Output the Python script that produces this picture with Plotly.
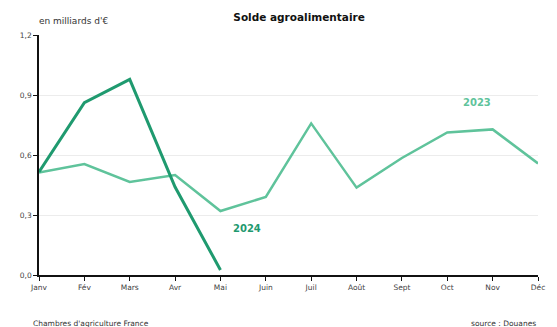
import plotly.graph_objects as go

months = ["Janv", "Fév", "Mars", "Avr", "Mai", "Juin", "Juil", "Août", "Sept", "Oct", "Nov", "Déc"]
values_2023 = [0.513, 0.555, 0.465, 0.50, 0.32, 0.39, 0.758, 0.437, 0.585, 0.713, 0.728, 0.558]
values_2024 = [0.515, 0.862, 0.978, 0.44, 0.025]
ytick_vals = [0, 0.3, 0.6, 0.9, 1.2]
ytick_text = ["0,0", "0,3", "0,6", "0,9", "1,2"]

c23 = "#5fc39b"
c24 = "#1f9a6f"
font = "DejaVu Sans, Verdana, sans-serif"

fig = go.Figure()
fig.add_trace(go.Scatter(x=list(range(12)), y=values_2023, mode="lines",
                         line=dict(color=c23, width=2.5), name="2023", hoverinfo="skip"))
fig.add_trace(go.Scatter(x=list(range(5)), y=values_2024, mode="lines",
                         line=dict(color=c24, width=3), name="2024", hoverinfo="skip"))

fig.update_layout(
    width=557, height=327,
    margin=dict(l=39, r=19, t=35, b=52),
    paper_bgcolor="white", plot_bgcolor="white",
    showlegend=False,
    font=dict(family=font, size=8, color="#444"),
    title=dict(text="<b>Solde agroalimentaire</b>", x=0.537, xanchor="center",
               y=1 - 17 / 327, yanchor="middle", font=dict(size=10.5, color="#111", family=font)),
    xaxis=dict(range=[0, 11], tickvals=list(range(12)), ticktext=months,
               showline=True, linecolor="#111", linewidth=1.5, ticks="outside",
               ticklen=4, tickcolor="#111", showgrid=False, zeroline=False,
               tickfont=dict(size=7.5, color="#444")),
    yaxis=dict(range=[0, 1.2], tickvals=ytick_vals, ticktext=ytick_text,
               showline=True, linecolor="#111", linewidth=1.5, ticks="outside",
               ticklen=4, tickcolor="#111", showgrid=True, gridcolor="#ececec",
               gridwidth=1, zeroline=False,
               tickfont=dict(size=7.5, color="#444")),
)

fig.add_annotation(x=9.65, y=0.865, text="<b>2023</b>", showarrow=False,
                   font=dict(color=c23, size=10, family=font))
fig.add_annotation(x=4.58, y=0.235, text="<b>2024</b>", showarrow=False,
                   font=dict(color=c24, size=10, family=font))
fig.add_annotation(xref="paper", yref="paper", x=-0.005, y=1.0, yshift=7,
                   xanchor="left", yanchor="bottom", text="en milliards d'€",
                   showarrow=False, font=dict(size=9, color="#333", family=font))
fig.add_annotation(xref="paper", yref="paper", x=-0.016, y=0, yshift=-48,
                   xanchor="left", yanchor="middle", text="Chambres d'agriculture France",
                   showarrow=False, font=dict(size=7.5, color="#333", family=font))
fig.add_annotation(xref="paper", yref="paper", x=1.0, y=0, yshift=-48,
                   xanchor="right", yanchor="middle", text="source : Douanes",
                   showarrow=False, font=dict(size=7.5, color="#333", family=font))

fig.write_html("out.html")
